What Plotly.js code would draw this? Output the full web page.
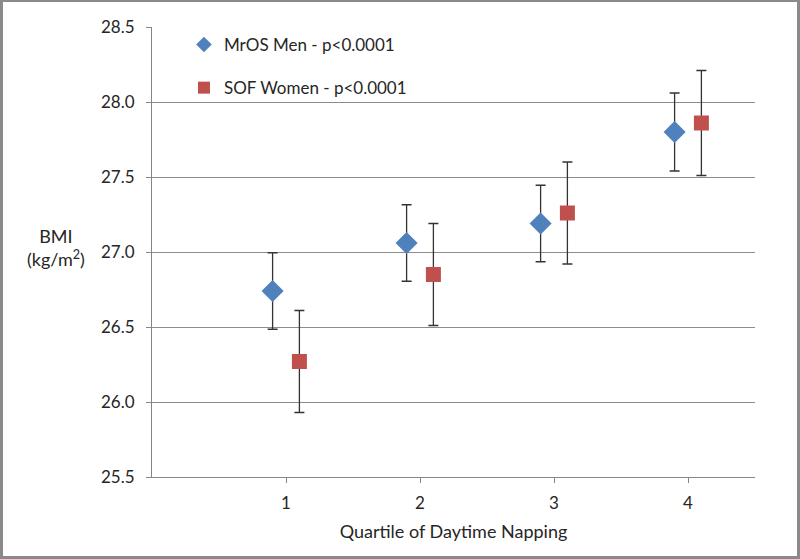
<!DOCTYPE html>
<html>
<head>
<meta charset="utf-8">
<script src="https://cdn.plot.ly/plotly-3.0.1.min.js"></script>
<style>
  html, body { margin: 0; padding: 0; background: #fff; }
  #wrap { position: relative; width: 800px; height: 559px; }
  #chart { width: 800px; height: 559px; }
  #frame { position: absolute; left: 0; top: 0; width: 800px; height: 559px; box-sizing: border-box; border: 3px solid #8a8a8a; border-top-width: 2px; pointer-events: none; }
</style>
</head>
<body>
<div id="wrap"><div id="chart"></div><div id="frame"></div></div>
<script>
// Data
const quartiles = [1, 2, 3, 4];
const tickLabels = ['1', '2', '3', '4'];
const menName = 'MrOS Men - p<0.0001';
const womenName = 'SOF Women - p<0.0001';
const menBMI = [26.74, 27.06, 27.19, 27.80];
const menErr = [0.255, 0.255, 0.255, 0.26];
const womenBMI = [26.27, 26.85, 27.26, 27.86];
const womenErr = [0.34, 0.34, 0.34, 0.35];
const menOffset = -0.1;
const womenOffset = 0.1;

const font = 'Lato, "Open Sans", sans-serif';
const txt = '#262626';

const traces = [
  {
    type: 'scatter', mode: 'markers', name: menName, legendgroup: 'a',
    x: quartiles.map(q => q + menOffset), y: menBMI,
    marker: { symbol: 'diamond', size: 17, color: '#4F81BD' },
    error_y: { type: 'data', array: menErr, visible: true, color: '#333333', thickness: 1.3, width: 5 }
  },
  {
    type: 'scatter', mode: 'markers', name: womenName, legendgroup: 'b',
    x: quartiles.map(q => q + womenOffset), y: womenBMI,
    marker: { symbol: 'square', size: 15, color: '#C0504D' },
    error_y: { type: 'data', array: womenErr, visible: true, color: '#333333', thickness: 1.3, width: 5 }
  }
];

const layout = {
  width: 800, height: 559,
  margin: { l: 152, r: 45, t: 27, b: 82 },
  paper_bgcolor: '#ffffff', plot_bgcolor: '#ffffff',
  font: { family: font, size: 16, color: txt },
  showlegend: true,
  legend: {
    x: 0.053, y: 1.0, xanchor: 'left', yanchor: 'top',
    bgcolor: 'rgba(0,0,0,0)', font: { family: font, size: 17, color: txt },
    traceorder: 'grouped', tracegroupgap: 18, itemsizing: 'constant', itemwidth: 30
  },
  xaxis: {
    range: [0, 4.5], tickvals: quartiles, ticktext: tickLabels,
    showgrid: false, zeroline: false, showline: true, linecolor: '#868686', linewidth: 1,
    ticks: 'outside', ticklen: 5, tickcolor: '#868686', ticklabelstandoff: 6,
    tickfont: { family: font, size: 17, color: txt },
    title: { text: 'Quartile of Daytime Napping', font: { family: font, size: 18, color: txt }, standoff: 12 }
  },
  yaxis: {
    range: [25.5, 28.5], dtick: 0.5, tick0: 25.5, tickformat: '.1f',
    showgrid: true, gridcolor: '#8c8c8c', gridwidth: 1, zeroline: false,
    showline: true, linecolor: '#868686', linewidth: 1,
    ticks: 'outside', ticklen: 5, tickcolor: '#868686', ticklabelstandoff: 8,
    tickfont: { family: font, size: 17, color: txt }
  },
  annotations: [
    { xref: 'paper', yref: 'paper', x: -0.16, y: 0.51, xanchor: 'center', yanchor: 'middle',
      showarrow: false, align: 'center',
      text: 'BMI<br>(kg/m<sup>2</sup>)', font: { family: font, size: 18, color: txt } }
  ]
};

Plotly.newPlot('chart', traces, layout, { displayModeBar: false, staticPlot: true });
</script>
</body>
</html>
